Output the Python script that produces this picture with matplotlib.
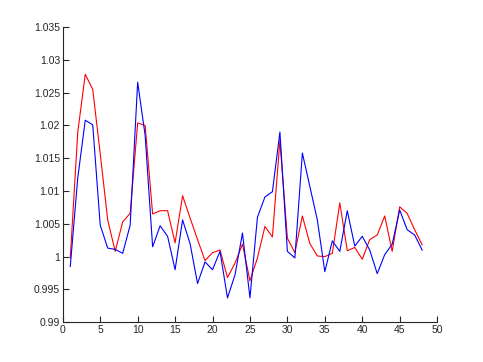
import numpy as np
import matplotlib
matplotlib.use("Agg")
from matplotlib import pyplot as plt
from matplotlib.ticker import FixedLocator, FuncFormatter

# valeurs
x = list(range(1, 49))
rouge = [0.9998, 1.0190, 1.0278, 1.0255, 1.0157, 1.0056, 1.0008, 1.0053, 1.0066, 1.0204,
         1.0200, 1.0065, 1.0070, 1.0070, 1.0021, 1.0093, 1.0059, 1.0026, 0.9994, 1.0006,
         1.0010, 0.9968, 0.9990, 1.0019, 0.9963, 0.9998, 1.0046, 1.0030, 1.0177, 1.0028,
         1.0006, 1.0062, 1.0020, 1.0001, 1.0000, 1.0005, 1.0082, 1.0009, 1.0014, 0.9996,
         1.0026, 1.0033, 1.0062, 1.0008, 1.0076, 1.0066, 1.0041, 1.0018]
bleu = [0.9985, 1.0120, 1.0208, 1.0201, 1.0048, 1.0013, 1.0011, 1.0005, 1.0048, 1.0266,
        1.0185, 1.0015, 1.0047, 1.0031, 0.9980, 1.0056, 1.0020, 0.9959, 0.9992, 0.9980,
        1.0008, 0.9937, 0.9972, 1.0036, 0.9937, 1.0060, 1.0091, 1.0099, 1.0190, 1.0008,
        0.9998, 1.0158, 1.0107, 1.0056, 0.9977, 1.0024, 1.0008, 1.0070, 1.0016, 1.0031,
        1.0010, 0.9974, 1.0003, 1.0019, 1.0071, 1.0041, 1.0033, 1.0010]
xticks = list(range(0, 51, 5))
yticks = [0.99, 0.995, 1.0, 1.005, 1.01, 1.015, 1.02, 1.025, 1.03, 1.035]

plt.rcParams['font.family'] = ['Liberation Sans', 'DejaVu Sans']

fig = plt.figure(figsize=(4.83, 3.62), dpi=100)
ax = fig.add_axes([0.13, 0.11, 0.775, 0.815])

ax.plot(x, rouge, color='red', linewidth=0.8)
ax.plot(x, bleu, color='blue', linewidth=0.8)

ax.set_xlim(0, 50)
ax.set_ylim(0.99, 1.035)
ax.xaxis.set_major_locator(FixedLocator(xticks))
ax.yaxis.set_major_locator(FixedLocator(yticks))
ax.yaxis.set_major_formatter(FuncFormatter(lambda v, p: f"{v:g}"))

for s in ['top', 'right']:
    ax.spines[s].set_visible(False)
for s in ['left', 'bottom']:
    ax.spines[s].set_color('#262626')
    ax.spines[s].set_linewidth(0.8)

ax.tick_params(direction='in', length=4, width=0.8, colors='#262626',
               labelsize=7.5, pad=2)

fig.savefig('out.png', dpi=100, facecolor='white')
